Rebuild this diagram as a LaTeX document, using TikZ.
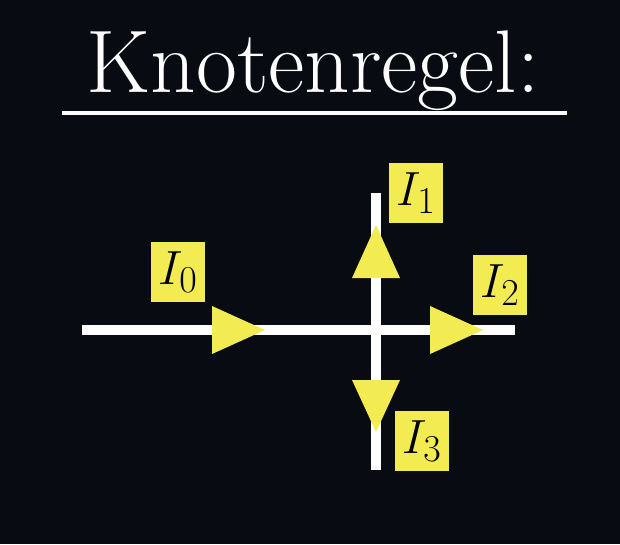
\RequirePackage{fix-cm}
\documentclass[tikz,border=0pt]{standalone}
\usepackage{xcolor}
\usepackage{tikz}
\usetikzlibrary{positioning}

\DeclareMathSizes{48}{48}{38}{30}
\definecolor{nightsky}{RGB}{9,11,18}
\definecolor{signal}{RGB}{242,236,82}

\begin{document}
\begin{tikzpicture}[x=1pt, y=-1pt,
      title/.style={text=white, inner sep=0pt, font=\fontsize{89}{100}\selectfont},
      wire/.style={white, line width=10pt},
      rule/.style={white, line width=4pt},
      tag/.style={fill=signal, text=black, inner sep=0pt, minimum width=54pt,
        minimum height=60pt, font=\fontsize{48}{54}\selectfont},
      head/.style={fill=signal}
    ]
    \fill[nightsky] (0,0) rectangle (620,544);
    \useasboundingbox (0,0) rectangle (620,544);

    \node[title, anchor=base] (title) at (313,92) {Knotenregel:};
    \coordinate (ruleL) at (62,113);
    \coordinate (ruleR) at (567,113);
    \draw[rule] (ruleL) -- (ruleR);

    % the node and its wires
    \coordinate (west) at (82,330);
    \coordinate (east) at (515,330);
    \coordinate (north) at (376,193);
    \coordinate (south) at (376,470);
    \draw[wire] (west) -- (east);
    \draw[wire] (north) -- (south);

    % current directions
    \fill[head] (212,306) -- (265,330) -- (212,354) -- cycle;
    \fill[head] (430,306) -- (483,330) -- (430,354) -- cycle;
    \fill[head] (352,278) -- (376,225) -- (400,278) -- cycle;
    \fill[head] (352,380) -- (376,432) -- (400,380) -- cycle;

    \node[tag] (i0) at (178,272) {$I_0$};
    \node[tag] (i1) at (416,193) {$I_1$};
    \node[tag] (i2) at (500,285) {$I_2$};
    \node[tag] (i3) at (422,441) {$I_3$};
  \end{tikzpicture}
\end{document}
